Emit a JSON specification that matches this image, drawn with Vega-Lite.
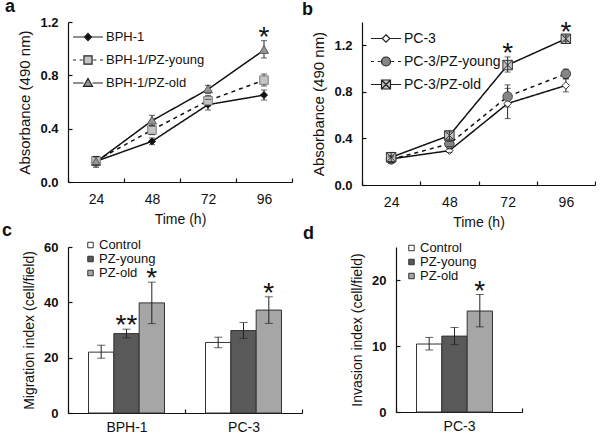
{
  "$schema": "https://vega.github.io/schema/vega-lite/v6.json",
  "background": "white",
  "padding": {"left": 2, "top": -2, "right": 0, "bottom": 0},
  "config": {
    "font": "Liberation Sans",
    "view": {"stroke": null},
    "axis": {
      "grid": false,
      "domainColor": "#111",
      "domainWidth": 1.2,
      "tickColor": "#111",
      "tickWidth": 1.2,
      "tickSize": -4,
      "labelColor": "#111",
      "titleColor": "#111",
      "titleFontWeight": "normal",
      "labelFont": "Liberation Sans",
      "titleFont": "Liberation Sans"
    },
    "axisY": {"labelFontWeight": "bold", "labelFontSize": 13, "labelPadding": 14, "titleFontSize": 15, "titlePadding": 7},
    "axisX": {"labelFontSize": 14, "labelPadding": 14, "titleFontSize": 14, "titlePadding": 6, "labelAngle": 0},
    "legend": {"labelFont": "Liberation Sans", "labelColor": "#111"},
    "title": {"font": "Liberation Sans", "fontSize": 18, "fontWeight": "bold", "color": "#111", "anchor": "start", "frame": "group", "baseline": "alphabetic"}
  },
  "spacing": -8,
  "resolve": {
    "scale": {"shape": "independent", "fill": "independent", "stroke": "independent"},
    "legend": {"shape": "independent", "fill": "independent", "stroke": "independent"}
  },
  "vconcat": [
    {
      "spacing": 70,
      "bounds": "flush",
      "resolve": {
        "scale": {"shape": "independent", "fill": "independent", "stroke": "independent"},
        "legend": {"shape": "independent", "fill": "independent", "stroke": "independent"}
      },
      "hconcat": [
        {
          "width": 224,
          "height": 160,
          "title": {"text": "a", "dx": -63, "offset": 0},
          "data": {"values": [
            {"series": "BPH-1", "time": "24", "mean": 0.155, "lo": 0.12, "hi": 0.19, "sig": ""},
            {"series": "BPH-1", "time": "48", "mean": 0.305, "lo": 0.28, "hi": 0.33, "sig": ""},
            {"series": "BPH-1", "time": "72", "mean": 0.58, "lo": 0.54, "hi": 0.62, "sig": ""},
            {"series": "BPH-1", "time": "96", "mean": 0.652, "lo": 0.615, "hi": 0.69, "sig": ""},
            {"series": "BPH-1/PZ-young", "time": "24", "mean": 0.16, "lo": 0.13, "hi": 0.19, "sig": ""},
            {"series": "BPH-1/PZ-young", "time": "48", "mean": 0.39, "lo": 0.355, "hi": 0.425, "sig": ""},
            {"series": "BPH-1/PZ-young", "time": "72", "mean": 0.61, "lo": 0.57, "hi": 0.65, "sig": ""},
            {"series": "BPH-1/PZ-young", "time": "96", "mean": 0.764, "lo": 0.72, "hi": 0.81, "sig": ""},
            {"series": "BPH-1/PZ-old", "time": "24", "mean": 0.15, "lo": 0.11, "hi": 0.19, "sig": ""},
            {"series": "BPH-1/PZ-old", "time": "48", "mean": 0.46, "lo": 0.42, "hi": 0.5, "sig": ""},
            {"series": "BPH-1/PZ-old", "time": "72", "mean": 0.695, "lo": 0.665, "hi": 0.725, "sig": ""},
            {"series": "BPH-1/PZ-old", "time": "96", "mean": 0.99, "lo": 0.93, "hi": 1.06, "sig": "*"}
          ]},
          "encoding": {
            "x": {"field": "time", "type": "ordinal", "bandPosition": 0.5,
                  "scale": {"type": "band", "paddingInner": 0, "paddingOuter": 0},
                  "axis": {"title": "Time (h)", "tickBand": "extent"}}
          },
          "layer": [
            {
              "mark": {"type": "line", "color": "#111", "strokeWidth": 1.5},
              "encoding": {
                "y": {"field": "mean", "type": "quantitative", "scale": {"domain": [0, 1.2], "nice": false},
                      "axis": {"values": [0, 0.2, 0.4, 0.6, 0.8, 1.0, 1.2], "format": ".1f", "title": "Absorbance (490 nm)"}},
                "detail": {"field": "series"},
                "strokeDash": {"condition": {"test": "datum.series === 'BPH-1/PZ-young'", "value": [4, 4]}, "value": [1, 0]}
              }
            },
            {
              "mark": {"type": "rule", "color": "#222", "strokeWidth": 1},
              "encoding": {"y": {"field": "lo", "type": "quantitative"}, "y2": {"field": "hi"}}
            },
            {
              "mark": {"type": "point", "filled": true, "opacity": 1, "strokeWidth": 1},
              "encoding": {
                "y": {"field": "mean", "type": "quantitative"},
                "shape": {"condition": [{"test": "datum.series === 'BPH-1'", "value": "M0,-1L1,0L0,1L-1,0Z"}, {"test": "datum.series === 'BPH-1/PZ-young'", "value": "M-1,-1H1V1H-1Z"}], "value": "M0,-1L1,0.75L-1,0.75Z"},
                "fill": {"condition": [{"test": "datum.series === 'BPH-1'", "value": "#111111"}, {"test": "datum.series === 'BPH-1/PZ-young'", "value": "#c4c4c4"}], "value": "#959595"},
                "stroke": {"condition": [{"test": "datum.series === 'BPH-1'", "value": "#111111"}, {"test": "datum.series === 'BPH-1/PZ-young'", "value": "#7a7a7a"}], "value": "#5a5a5a"},
                "size": {"condition": [{"test": "datum.series === 'BPH-1'", "value": 49}, {"test": "datum.series === 'BPH-1/PZ-young'", "value": 72}], "value": 81}
              }
            },
            {
              "mark": {"type": "point", "filled": true, "opacity": 1, "strokeWidth": 1.2, "size": 0},
              "encoding": {
                "y": {"field": "mean", "type": "quantitative"},
                "shape": {"field": "series", "type": "nominal",
                  "scale": {"domain": ["BPH-1", "BPH-1/PZ-young", "BPH-1/PZ-old"], "range": ["M-1,0H-0.24M0.24,0H1M0,-0.24L0.24,0L0,0.24L-0.24,0Z", "M-1,0H-0.8M-0.55,0H-0.35M0.35,0H0.55M0.8,0H1M-0.27,-0.27H0.27V0.27H-0.27Z", "M-1,0H-0.3M0.3,0H1M0,-0.3L0.3,0.22L-0.3,0.22Z"]},
                  "legend": {"title": null, "orient": "none", "legendX": 4, "legendY": -1, "symbolSize": 900, "labelFontSize": 13, "labelLimit": 300, "rowPadding": -4.5, "labelOffset": 2, "symbolStrokeWidth": 1.2}},
                "fill": {"field": "series", "type": "nominal",
                  "scale": {"domain": ["BPH-1", "BPH-1/PZ-young", "BPH-1/PZ-old"], "range": ["#111111", "#c4c4c4", "#959595"]},
                  "legend": {"title": null, "orient": "none", "legendX": 4, "legendY": -1, "symbolSize": 900, "labelFontSize": 13, "labelLimit": 300, "rowPadding": -4.5, "labelOffset": 2, "symbolStrokeWidth": 1.2}},
                "stroke": {"field": "series", "type": "nominal",
                  "scale": {"domain": ["BPH-1", "BPH-1/PZ-young", "BPH-1/PZ-old"], "range": ["#222222", "#222222", "#222222"]},
                  "legend": {"title": null, "orient": "none", "legendX": 4, "legendY": -1, "symbolSize": 900, "labelFontSize": 13, "labelLimit": 300, "rowPadding": -4.5, "labelOffset": 2, "symbolStrokeWidth": 1.2}}
              }
            },
            {
              "mark": {"type": "tick", "color": "#222", "thickness": 1, "size": 6},
              "encoding": {"y": {"field": "hi", "type": "quantitative"}}
            },
            {
              "mark": {"type": "tick", "color": "#222", "thickness": 1, "size": 6},
              "encoding": {"y": {"field": "lo", "type": "quantitative"}}
            },
            {
              "transform": [{"filter": "datum.sig !== ''"}],
              "mark": {"type": "text", "fontSize": 28, "baseline": "alphabetic", "dy": 5, "color": "#111", "font": "Liberation Sans"},
              "encoding": {"y": {"field": "hi", "type": "quantitative"}, "text": {"field": "sig"}}
            }
          ]
        },
        {
          "width": 233,
          "height": 163,
          "title": {"text": "b", "dx": -60, "offset": 0},
          "data": {"values": [
            {"series": "PC-3", "time": "24", "mean": 0.224, "lo": 0.2, "hi": 0.25, "sig": ""},
            {"series": "PC-3", "time": "48", "mean": 0.295, "lo": 0.28, "hi": 0.31, "sig": ""},
            {"series": "PC-3", "time": "72", "mean": 0.7, "lo": 0.57, "hi": 0.83, "sig": ""},
            {"series": "PC-3", "time": "96", "mean": 0.855, "lo": 0.8, "hi": 0.91, "sig": ""},
            {"series": "PC-3/PZ-young", "time": "24", "mean": 0.22, "lo": 0.2, "hi": 0.24, "sig": ""},
            {"series": "PC-3/PZ-young", "time": "48", "mean": 0.353, "lo": 0.33, "hi": 0.375, "sig": ""},
            {"series": "PC-3/PZ-young", "time": "72", "mean": 0.76, "lo": 0.67, "hi": 0.86, "sig": ""},
            {"series": "PC-3/PZ-young", "time": "96", "mean": 0.955, "lo": 0.915, "hi": 0.995, "sig": ""},
            {"series": "PC-3/PZ-old", "time": "24", "mean": 0.238, "lo": 0.19, "hi": 0.28, "sig": ""},
            {"series": "PC-3/PZ-old", "time": "48", "mean": 0.425, "lo": 0.395, "hi": 0.455, "sig": ""},
            {"series": "PC-3/PZ-old", "time": "72", "mean": 1.03, "lo": 0.97, "hi": 1.1, "sig": "*"},
            {"series": "PC-3/PZ-old", "time": "96", "mean": 1.256, "lo": 1.235, "hi": 1.28, "sig": "*"}
          ]},
          "encoding": {
            "x": {"field": "time", "type": "ordinal", "bandPosition": 0.5,
                  "scale": {"type": "band", "paddingInner": 0, "paddingOuter": 0},
                  "axis": {"title": "Time (h)", "tickBand": "extent"}}
          },
          "layer": [
            {
              "mark": {"type": "line", "color": "#111", "strokeWidth": 1.5},
              "encoding": {
                "y": {"field": "mean", "type": "quantitative", "scale": {"domain": [0, 1.4], "nice": false},
                      "axis": {"values": [0, 0.2, 0.4, 0.6, 0.8, 1.0, 1.2, 1.4], "format": ".1f", "title": "Absorbance (490 nm)"}},
                "detail": {"field": "series"},
                "strokeDash": {"condition": {"test": "datum.series === 'PC-3/PZ-young'", "value": [4, 4]}, "value": [1, 0]}
              }
            },
            {
              "mark": {"type": "rule", "color": "#222", "strokeWidth": 1},
              "encoding": {"y": {"field": "lo", "type": "quantitative"}, "y2": {"field": "hi"}}
            },
            {
              "mark": {"type": "point", "filled": true, "opacity": 1, "strokeWidth": 1},
              "encoding": {
                "y": {"field": "mean", "type": "quantitative"},
                "shape": {"condition": [{"test": "datum.series === 'PC-3'", "value": "M0,-1L1,0L0,1L-1,0Z"}, {"test": "datum.series === 'PC-3/PZ-young'", "value": "circle"}], "value": "M-1,-1H1V1H-1ZM-1,-1L1,1M1,-1L-1,1M0,-1V1"},
                "fill": {"condition": [{"test": "datum.series === 'PC-3'", "value": "#ffffff"}, {"test": "datum.series === 'PC-3/PZ-young'", "value": "#858585"}], "value": "#c4c4c4"},
                "stroke": {"condition": [{"test": "datum.series === 'PC-3'", "value": "#333333"}, {"test": "datum.series === 'PC-3/PZ-young'", "value": "#444444"}], "value": "#333333"},
                "size": {"condition": [{"test": "datum.series === 'PC-3'", "value": 56}, {"test": "datum.series === 'PC-3/PZ-young'", "value": 90}], "value": 90}
              }
            },
            {
              "mark": {"type": "point", "filled": true, "opacity": 1, "strokeWidth": 1.2, "size": 0},
              "encoding": {
                "y": {"field": "mean", "type": "quantitative"},
                "shape": {"field": "series", "type": "nominal",
                  "scale": {"domain": ["PC-3", "PC-3/PZ-young", "PC-3/PZ-old"], "range": ["M-1,0H-0.25M0.25,0H1M0,-0.25L0.25,0L0,0.25L-0.25,0Z", "M-1,0H-0.8M-0.55,0H-0.35M0.35,0H0.55M0.8,0H1M-0.3,0A0.3,0.3 0 1,0 0.3,0A0.3,0.3 0 1,0 -0.3,0Z", "M-1,0H-0.3M0.3,0H1M-0.3,-0.3H0.3V0.3H-0.3ZM-0.3,-0.3L0.3,0.3M0.3,-0.3L-0.3,0.3"]},
                  "legend": {"title": null, "orient": "none", "legendX": 8, "legendY": 0.5, "symbolSize": 900, "labelFontSize": 14, "labelLimit": 300, "rowPadding": -1, "labelOffset": 2, "symbolStrokeWidth": 1.2}},
                "fill": {"field": "series", "type": "nominal",
                  "scale": {"domain": ["PC-3", "PC-3/PZ-young", "PC-3/PZ-old"], "range": ["#ffffff", "#858585", "#c4c4c4"]},
                  "legend": {"title": null, "orient": "none", "legendX": 8, "legendY": 0.5, "symbolSize": 900, "labelFontSize": 14, "labelLimit": 300, "rowPadding": -1, "labelOffset": 2, "symbolStrokeWidth": 1.2}},
                "stroke": {"field": "series", "type": "nominal",
                  "scale": {"domain": ["PC-3", "PC-3/PZ-young", "PC-3/PZ-old"], "range": ["#222222", "#222222", "#222222"]},
                  "legend": {"title": null, "orient": "none", "legendX": 8, "legendY": 0.5, "symbolSize": 900, "labelFontSize": 14, "labelLimit": 300, "rowPadding": -1, "labelOffset": 2, "symbolStrokeWidth": 1.2}}
              }
            },
            {
              "mark": {"type": "tick", "color": "#222", "thickness": 1, "size": 6},
              "encoding": {"y": {"field": "hi", "type": "quantitative"}}
            },
            {
              "mark": {"type": "tick", "color": "#222", "thickness": 1, "size": 6},
              "encoding": {"y": {"field": "lo", "type": "quantitative"}}
            },
            {
              "transform": [{"filter": "datum.sig !== ''"}],
              "mark": {"type": "text", "fontSize": 28, "baseline": "alphabetic", "dy": 5, "color": "#111", "font": "Liberation Sans"},
              "encoding": {"y": {"field": "hi", "type": "quantitative"}, "text": {"field": "sig"}}
            }
          ]
        }
      ]
    },
    {
      "spacing": 94,
      "bounds": "flush",
      "resolve": {
        "scale": {"shape": "independent", "fill": "independent", "stroke": "independent"},
        "legend": {"shape": "independent", "fill": "independent", "stroke": "independent"}
      },
      "hconcat": [
        {
          "width": 234,
          "height": 166,
          "title": {"text": "c", "dx": -66, "offset": -1},
          "data": {"values": [
            {"group": "BPH-1", "cond": "Control", "mean": 22.0, "lo": 19.8, "hi": 24.5, "sig": ""},
            {"group": "BPH-1", "cond": "PZ-young", "mean": 28.7, "lo": 27.2, "hi": 30.3, "sig": "**"},
            {"group": "BPH-1", "cond": "PZ-old", "mean": 39.8, "lo": 32.3, "hi": 47.3, "sig": "*"},
            {"group": "PC-3", "cond": "Control", "mean": 25.5, "lo": 23.6, "hi": 27.4, "sig": ""},
            {"group": "PC-3", "cond": "PZ-young", "mean": 29.8, "lo": 27.0, "hi": 32.7, "sig": ""},
            {"group": "PC-3", "cond": "PZ-old", "mean": 37.2, "lo": 32.4, "hi": 42.0, "sig": "*"}
          ]},
          "encoding": {
            "x": {"field": "group", "type": "nominal",
                  "scale": {"type": "band", "paddingInner": 0, "paddingOuter": 0},
                  "axis": {"title": null, "tickBand": "extent", "labelPadding": 11}},
            "xOffset": {"field": "cond", "type": "nominal", "sort": ["Control", "PZ-young", "PZ-old"],
                  "scale": {"paddingInner": 0, "paddingOuter": 0.81}}
          },
          "layer": [
            {
              "mark": {"type": "bar", "stroke": "#333", "strokeWidth": 1},
              "encoding": {
                "y": {"field": "mean", "type": "quantitative", "scale": {"domain": [0, 60], "nice": false},
                      "axis": {"values": [0, 10, 20, 30, 40, 50, 60], "title": "Migration index (cell/field)", "titleFontSize": 14}},
                "fill": {"field": "cond", "type": "nominal", "sort": ["Control", "PZ-young", "PZ-old"],
                  "scale": {"domain": ["Control", "PZ-young", "PZ-old"], "range": ["#ffffff", "#595959", "#a6a6a6"]},
                  "legend": {"title": null, "orient": "none", "legendX": 16, "legendY": -8.5, "symbolType": "square", "symbolSize": 30, "symbolStrokeColor": "#333", "symbolStrokeWidth": 1, "labelFontSize": 13, "labelOffset": 2, "rowPadding": -3}}
              }
            },
            {
              "mark": {"type": "rule", "color": "#222", "strokeWidth": 1},
              "encoding": {"y": {"field": "lo", "type": "quantitative"}, "y2": {"field": "hi"}}
            },
            {
              "mark": {"type": "tick", "color": "#222", "thickness": 1, "size": 8},
              "encoding": {"y": {"field": "hi", "type": "quantitative"}}
            },
            {
              "mark": {"type": "tick", "color": "#222", "thickness": 1, "size": 8},
              "encoding": {"y": {"field": "lo", "type": "quantitative"}}
            },
            {
              "transform": [{"filter": "datum.sig !== ''"}],
              "mark": {"type": "text", "fontSize": 28, "baseline": "alphabetic", "dy": 5, "color": "#111", "font": "Liberation Sans"},
              "encoding": {"y": {"field": "hi", "type": "quantitative"}, "text": {"field": "sig"}}
            }
          ]
        },
        {
          "width": 126,
          "height": 165,
          "title": {"text": "d", "dx": -93, "offset": -1},
          "data": {"values": [
            {"group": "PC-3", "cond": "Control", "mean": 10.3, "lo": 9.4, "hi": 11.3, "sig": ""},
            {"group": "PC-3", "cond": "PZ-young", "mean": 11.5, "lo": 10.2, "hi": 12.8, "sig": ""},
            {"group": "PC-3", "cond": "PZ-old", "mean": 15.3, "lo": 12.9, "hi": 17.8, "sig": "*"}
          ]},
          "encoding": {
            "x": {"field": "group", "type": "nominal",
                  "scale": {"type": "band", "paddingInner": 0, "paddingOuter": 0},
                  "axis": {"title": null, "tickBand": "extent", "labelPadding": 11}},
            "xOffset": {"field": "cond", "type": "nominal", "sort": ["Control", "PZ-young", "PZ-old"],
                  "scale": {"paddingInner": 0, "paddingOuter": 0.695}}
          },
          "layer": [
            {
              "mark": {"type": "bar", "stroke": "#333", "strokeWidth": 1},
              "encoding": {
                "y": {"field": "mean", "type": "quantitative", "scale": {"domain": [0, 25], "nice": false},
                      "axis": {"values": [0, 5, 10, 15, 20, 25], "title": "Invasion index (cell/field)", "titleFontSize": 14}},
                "fill": {"field": "cond", "type": "nominal", "sort": ["Control", "PZ-young", "PZ-old"],
                  "scale": {"domain": ["Control", "PZ-young", "PZ-old"], "range": ["#ffffff", "#595959", "#a6a6a6"]},
                  "legend": {"title": null, "orient": "none", "legendX": 9, "legendY": -5.5, "symbolType": "square", "symbolSize": 30, "symbolStrokeColor": "#333", "symbolStrokeWidth": 1, "labelFontSize": 13, "labelOffset": 2, "rowPadding": -0.5}}
              }
            },
            {
              "mark": {"type": "rule", "color": "#222", "strokeWidth": 1},
              "encoding": {"y": {"field": "lo", "type": "quantitative"}, "y2": {"field": "hi"}}
            },
            {
              "mark": {"type": "tick", "color": "#222", "thickness": 1, "size": 8},
              "encoding": {"y": {"field": "hi", "type": "quantitative"}}
            },
            {
              "mark": {"type": "tick", "color": "#222", "thickness": 1, "size": 8},
              "encoding": {"y": {"field": "lo", "type": "quantitative"}}
            },
            {
              "transform": [{"filter": "datum.sig !== ''"}],
              "mark": {"type": "text", "fontSize": 28, "baseline": "alphabetic", "dy": 5, "color": "#111", "font": "Liberation Sans"},
              "encoding": {"y": {"field": "hi", "type": "quantitative"}, "text": {"field": "sig"}}
            }
          ]
        }
      ]
    }
  ]
}
